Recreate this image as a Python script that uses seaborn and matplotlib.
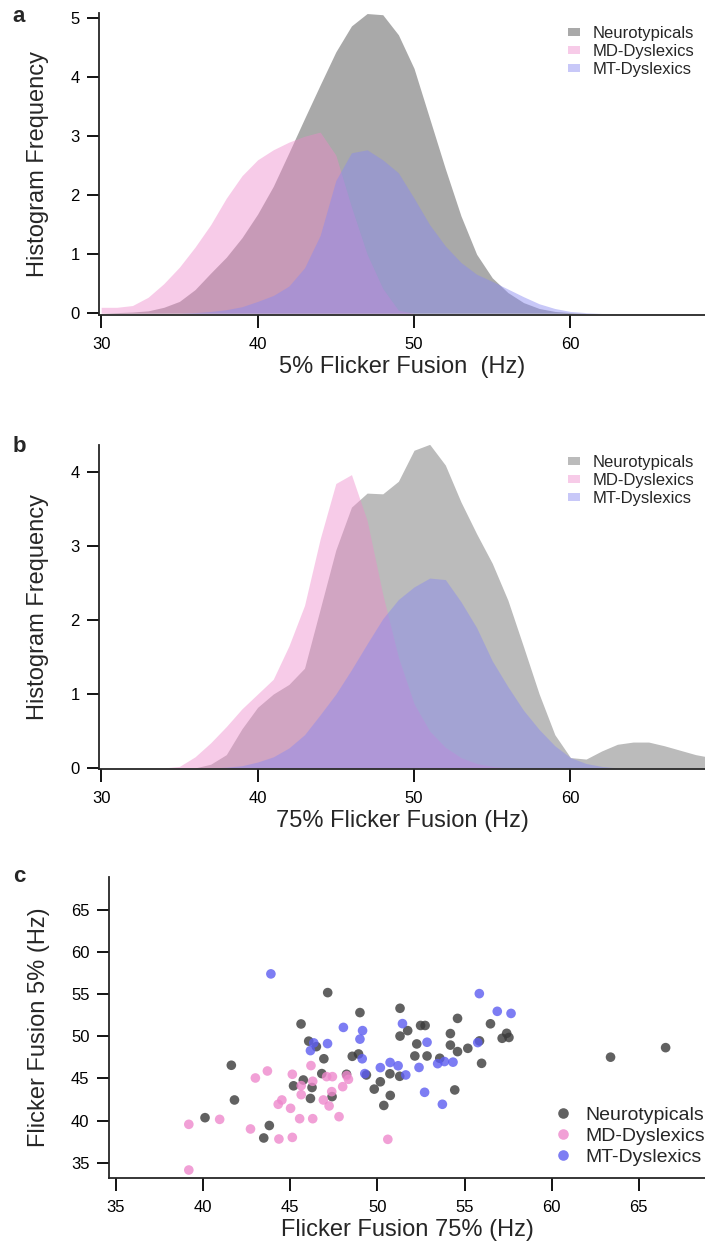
import numpy as np
import pandas as pd
import matplotlib
matplotlib.use("Agg")
import matplotlib.pyplot as plt
import seaborn as sns

# frequency grid (Hz) for the smoothed histograms
freq_hz = [30, 31, 32, 33, 34, 35, 36, 37, 38, 39,
           40, 41, 42, 43, 44, 45, 46, 47, 48, 49,
           50, 51, 52, 53, 54, 55, 56, 57, 58, 59,
           60, 61, 62, 63, 64, 65, 66, 67, 68, 69]

# panel a : 5% flicker fusion
hist5_neuro = [0.0, 0.01, 0.02, 0.04, 0.1, 0.2, 0.4, 0.68, 0.95, 1.28,
               1.68, 2.15, 2.72, 3.3, 3.87, 4.43, 4.87, 5.08, 5.06, 4.72,
               4.15, 3.3, 2.45, 1.65, 1.0, 0.6, 0.35, 0.18, 0.08, 0.03,
               0.01, 0, 0, 0, 0, 0, 0, 0, 0, 0]
hist5_md = [0.1, 0.1, 0.13, 0.27, 0.5, 0.78, 1.12, 1.5, 1.95, 2.33,
            2.6, 2.77, 2.9, 3.0, 3.07, 2.68, 1.8, 1.0, 0.42, 0.05,
            0, 0, 0, 0, 0, 0, 0, 0, 0, 0,
            0, 0, 0, 0, 0, 0, 0, 0, 0, 0]
hist5_mt = [0, 0, 0, 0, 0, 0, 0.01, 0.03, 0.06, 0.11,
            0.2, 0.3, 0.46, 0.77, 1.32, 2.25, 2.72, 2.77, 2.6, 2.38,
            1.95, 1.5, 1.14, 0.86, 0.66, 0.54, 0.41, 0.28, 0.16, 0.08,
            0.03, 0.01, 0, 0, 0, 0, 0, 0, 0, 0]

# panel b : 75% flicker fusion
hist75_neuro = [0, 0, 0, 0, 0, 0, 0, 0.05, 0.18, 0.53,
                0.82, 1.0, 1.13, 1.35, 2.15, 2.95, 3.53, 3.72, 3.71, 3.88,
                4.3, 4.38, 4.1, 3.6, 3.17, 2.77, 2.27, 1.64, 1.0, 0.45,
                0.14, 0.12, 0.23, 0.32, 0.35, 0.35, 0.3, 0.24, 0.18, 0.14]
hist75_md = [0, 0, 0, 0, 0, 0.02, 0.15, 0.34, 0.56, 0.8,
             1.0, 1.2, 1.65, 2.2, 3.1, 3.85, 3.97, 3.35, 2.35, 1.5,
             0.87, 0.5, 0.28, 0.14, 0.06, 0.02, 0, 0, 0, 0,
             0, 0, 0, 0, 0, 0, 0, 0, 0, 0]
hist75_mt = [0, 0, 0, 0, 0, 0, 0, 0, 0.01, 0.03,
             0.08, 0.15, 0.27, 0.45, 0.72, 1.0, 1.33, 1.68, 2.02, 2.28,
             2.45, 2.57, 2.55, 2.25, 1.9, 1.45, 1.1, 0.78, 0.52, 0.3,
             0.14, 0.06, 0.02, 0, 0, 0, 0, 0, 0, 0]

groups = ["Neurotypicals", "MD-Dyslexics", "MT-Dyslexics"]

# panel c : individual subjects (75% vs 5%)
neuro_ff75 = [47.15, 49.0, 45.62, 46.06, 46.5, 46.93, 48.56, 48.92, 41.62, 41.8,
              40.11, 43.8, 43.48, 45.19, 45.75, 46.25, 46.16, 46.81, 47.4, 48.23,
              49.37, 49.82, 50.17, 50.74, 50.37, 50.72, 51.28, 51.3, 51.3, 51.74,
              52.48, 52.74, 52.26, 52.15, 52.85, 53.58, 54.19, 54.19, 54.6, 54.6,
              55.19, 55.98, 55.86, 56.49, 57.16, 57.42, 57.55, 54.44, 63.38, 66.54]
neuro_ff5 = [55.18, 52.81, 51.46, 49.42, 48.77, 47.33, 47.62, 47.9, 46.56, 42.44,
             40.34, 39.41, 37.93, 44.12, 44.81, 43.92, 42.62, 45.57, 42.84, 45.49,
             45.41, 43.73, 44.6, 42.98, 41.79, 45.55, 45.25, 53.32, 50.02, 50.67,
             51.28, 51.28, 49.09, 47.66, 47.66, 47.39, 50.32, 48.95, 52.12, 48.18,
             48.57, 46.79, 49.45, 51.48, 49.76, 50.35, 49.86, 43.63, 47.52, 48.65]

md_ff75 = [39.18, 39.18, 40.95, 42.72, 43.0, 43.69, 44.35, 45.12, 44.31, 44.52,
           45.02, 45.54, 46.29, 45.12, 45.63, 45.63, 46.19, 46.29, 46.9, 47.23,
           47.09, 47.42, 47.38, 47.8, 48.01, 48.24, 48.34, 50.6]
md_ff5 = [39.55, 34.13, 40.14, 39.0, 45.05, 45.88, 37.81, 38.0, 41.93, 42.44,
          41.45, 40.22, 40.22, 45.49, 44.14, 43.07, 46.52, 44.66, 42.44, 41.73,
          45.21, 45.21, 43.43, 40.46, 44.02, 45.33, 44.89, 37.77]

mt_ff75 = [43.89, 48.05, 49.15, 49.0, 46.35, 46.16, 47.14, 49.13, 49.28, 50.17,
           50.73, 51.19, 51.44, 51.63, 52.85, 52.39, 52.71, 53.46, 53.85, 54.34,
           53.73, 55.76, 55.85, 56.88, 57.67]
mt_ff5 = [57.4, 51.05, 50.67, 49.66, 49.21, 48.3, 49.13, 47.33, 45.57, 46.28,
          46.89, 46.5, 51.5, 45.41, 49.29, 46.3, 43.35, 46.75, 47.0, 46.93,
          41.93, 49.25, 55.06, 52.96, 52.71]

sns.set_style("ticks")
plt.rcParams['font.family'] = ['Liberation Sans', 'DejaVu Sans']
plt.rcParams['axes.linewidth'] = 1.3

fig = plt.figure(figsize=(7.05, 12.45), dpi=100)


def style_axes(ax):
    ax.tick_params(length=9, width=1.3, labelsize=12, color="black", labelcolor="black")
    ax.tick_params(axis="x", pad=7)
    ax.tick_params(axis="y", pad=5)
    sns.despine(ax=ax)


def hist_panel(ax, curves, gray, ymax, yticks, xlabel):
    fills = [(gray, 1.0), ("#ef89cb", 0.44), ("#8989f0", 0.465)]
    for name, vals, (col, alpha) in zip(groups, curves, fills):
        ax.fill_between(freq_hz, vals, 0, color=col, alpha=alpha, lw=0, label=name)
    ax.set_xlim(29.86, 68.6)
    ax.set_ylim(-0.03, ymax)
    ax.set_xticks([30, 40, 50, 60])
    ax.set_yticks(yticks)
    ax.set_xlabel(xlabel, fontsize=17, labelpad=3)
    ax.set_ylabel("Histogram Frequency", fontsize=17, labelpad=15)
    style_axes(ax)
    return ax


def hist_legend(ax, ytop):
    ax.legend(loc="upper left", bbox_to_anchor=(0.774, ytop), frameon=False,
              fontsize=12, handlelength=0.72, handleheight=0.35, handletextpad=0.78,
              labelspacing=0.17, borderpad=0, borderaxespad=0)


ax_a = fig.add_axes([0.1404, 0.747, 0.8596, 0.2426])
hist_panel(ax_a, [hist5_neuro, hist5_md, hist5_mt], "#a9a9a9", 5.09,
           [0, 1, 2, 3, 4, 5], "5% Flicker Fusion  (Hz)")
hist_legend(ax_a, 0.957)

ax_b = fig.add_axes([0.1404, 0.3823, 0.8596, 0.2602])
hist_panel(ax_b, [hist75_neuro, hist75_md, hist75_mt], "#bbbbbb", 4.37,
           [0, 1, 2, 3, 4], "75% Flicker Fusion (Hz)")
ax_b.set_ylim(-0.015, 4.37)
hist_legend(ax_b, 0.969)

# scatter
df = pd.DataFrame({
    "ff75": neuro_ff75 + md_ff75 + mt_ff75,
    "ff5": neuro_ff5 + md_ff5 + mt_ff5,
    "group": [groups[0]] * len(neuro_ff75) + [groups[1]] * len(md_ff75) + [groups[2]] * len(mt_ff75),
})
ax_c = fig.add_axes([0.1546, 0.0538, 0.8454, 0.2418])
sns.scatterplot(data=df, x="ff75", y="ff5", hue="group", hue_order=groups,
                palette=["#3a3a3a", "#ee88cc", "#5c5cf0"], alpha=0.8, s=48,
                linewidth=0, ax=ax_c)
ax_c.set_xlim(34.6, 68.8)
ax_c.set_ylim(33.18, 68.9)
ax_c.set_xticks([35, 40, 45, 50, 55, 60, 65])
ax_c.set_yticks([35, 40, 45, 50, 55, 60, 65])
ax_c.set_xlabel("Flicker Fusion 75% (Hz)", fontsize=17, labelpad=3)
ax_c.set_ylabel("Flicker Fusion 5% (Hz)", fontsize=17, labelpad=15)
style_axes(ax_c)
ax_c.legend(loc="upper left", bbox_to_anchor=(0.7455, 0.239), frameon=False,
            fontsize=14, handlelength=1.0, handletextpad=0.63, labelspacing=0.175,
            borderpad=0, borderaxespad=0, markerscale=1.1)

for letter, ypix in [("a", 17), ("b", 447), ("c", 877)]:
    fig.text(19 / 705, 1 - ypix / 1245, letter, fontsize=16, fontweight="bold",
             ha="center", va="center")

fig.savefig("out.png", dpi=100)
